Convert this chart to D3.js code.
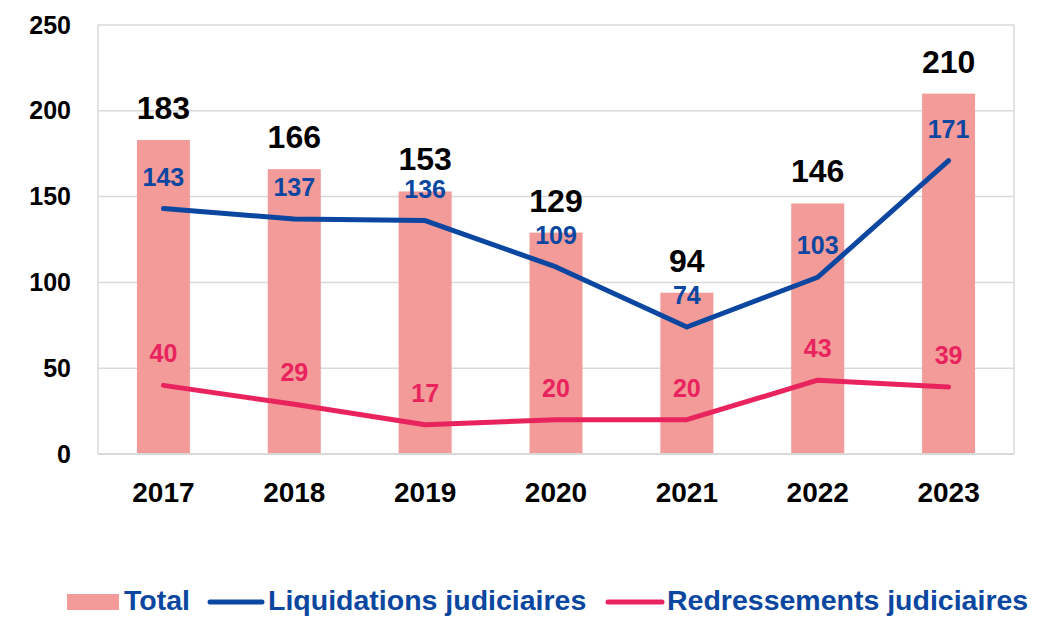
<!DOCTYPE html>
<html>
<head>
<meta charset="utf-8">
<script src="https://cdn.jsdelivr.net/npm/d3@7"></script>
<style>
  body { margin: 0; background: #fff; }
  svg { display: block; font-family: "Liberation Sans", Arial, sans-serif; font-weight: bold; }
</style>
</head>
<body>
<svg></svg>
<script>
const years = ['2017', '2018', '2019', '2020', '2021', '2022', '2023'];
const total = [183, 166, 153, 129, 94, 146, 210];
const liquidations = [143, 137, 136, 109, 74, 103, 171];
const redressements = [40, 29, 17, 20, 20, 43, 39];
const yTicks = [0, 50, 100, 150, 200, 250];

const svgWidth = 1038;
const svgHeight = 617;
const plot = { left: 98, right: 1014, top: 25, bottom: 454 };

const barColor = '#f29b98';
const blue = '#0b46a0';
const pink = '#e8235e';
const grid = '#d9d9d9';

const svg = d3.select('svg')
    .attr('width', svgWidth)
    .attr('height', svgHeight);

const xScale = d3.scaleBand()
    .domain(years)
    .range([plot.left, plot.right])
    .paddingInner(0.595)
    .paddingOuter(0.2975);

const yScale = d3.scaleLinear()
    .domain([0, 250])
    .range([plot.bottom, plot.top]);

const cx = d => xScale(d) + xScale.bandwidth() / 2;

// gridlines + frame
svg.append('g')
    .selectAll('line')
    .data(yTicks)
    .enter().append('line')
    .attr('x1', plot.left)
    .attr('x2', plot.right)
    .attr('y1', d => yScale(d))
    .attr('y2', d => yScale(d))
    .attr('stroke', grid)
    .attr('stroke-width', 1.5);

svg.append('line')
    .attr('x1', plot.left).attr('x2', plot.left)
    .attr('y1', plot.top).attr('y2', plot.bottom)
    .attr('stroke', grid).attr('stroke-width', 1.5);
svg.append('line')
    .attr('x1', plot.right).attr('x2', plot.right)
    .attr('y1', plot.top).attr('y2', plot.bottom)
    .attr('stroke', grid).attr('stroke-width', 1.5);

// y axis labels
const yAxis = svg.append('g')
    .attr('transform', `translate(${plot.left}, 0)`)
    .call(d3.axisLeft(yScale).tickValues(yTicks).tickSize(0).tickPadding(27));
yAxis.select('.domain').remove();
yAxis.selectAll('text')
    .attr('font-size', '25px')
    .attr('font-family', '"Liberation Sans", Arial, sans-serif')
    .attr('font-weight', 'bold')
    .attr('fill', '#000');

// x axis labels
const xAxis = svg.append('g')
    .attr('transform', `translate(0, ${plot.bottom})`)
    .call(d3.axisBottom(xScale).tickSize(0).tickPadding(28));
xAxis.select('.domain').remove();
xAxis.selectAll('text')
    .attr('font-size', '28px')
    .attr('font-family', '"Liberation Sans", Arial, sans-serif')
    .attr('font-weight', 'bold')
    .attr('fill', '#000');

// bars
svg.selectAll('.bar')
    .data(years)
    .enter().append('rect')
    .attr('class', 'bar')
    .attr('x', d => xScale(d))
    .attr('width', xScale.bandwidth())
    .attr('y', (d, i) => yScale(total[i]))
    .attr('height', (d, i) => plot.bottom - yScale(total[i]))
    .attr('fill', barColor);

// bottom axis line
svg.append('line')
    .attr('x1', plot.left).attr('x2', plot.right)
    .attr('y1', plot.bottom).attr('y2', plot.bottom)
    .attr('stroke', grid).attr('stroke-width', 2);

const line = d3.line()
    .x(d => cx(d.year))
    .y(d => yScale(d.value));

const liqData = years.map((y, i) => ({ year: y, value: liquidations[i] }));
const redData = years.map((y, i) => ({ year: y, value: redressements[i] }));

svg.append('path')
    .datum(liqData)
    .attr('fill', 'none')
    .attr('stroke', blue)
    .attr('stroke-width', 5)
    .attr('stroke-linecap', 'round')
    .attr('stroke-linejoin', 'round')
    .attr('d', line);

svg.append('path')
    .datum(redData)
    .attr('fill', 'none')
    .attr('stroke', pink)
    .attr('stroke-width', 5)
    .attr('stroke-linecap', 'round')
    .attr('stroke-linejoin', 'round')
    .attr('d', line);

// total labels
svg.selectAll('.total-label')
    .data(years)
    .enter().append('text')
    .attr('class', 'total-label')
    .attr('x', d => cx(d))
    .attr('y', (d, i) => yScale(total[i]) - 21)
    .attr('text-anchor', 'middle')
    .attr('font-size', '32px')
    .attr('fill', '#000')
    .text((d, i) => total[i]);

// liquidation labels
svg.selectAll('.liq-label')
    .data(liqData)
    .enter().append('text')
    .attr('class', 'liq-label')
    .attr('x', d => cx(d.year))
    .attr('y', d => yScale(d.value) - 23)
    .attr('text-anchor', 'middle')
    .attr('font-size', '25px')
    .attr('fill', blue)
    .text(d => d.value);

// redressement labels
svg.selectAll('.red-label')
    .data(redData)
    .enter().append('text')
    .attr('class', 'red-label')
    .attr('x', d => cx(d.year))
    .attr('y', d => yScale(d.value) - 23)
    .attr('text-anchor', 'middle')
    .attr('font-size', '25px')
    .attr('fill', pink)
    .text(d => d.value);

// legend
const legend = svg.append('g');
legend.append('rect')
    .attr('x', 67).attr('y', 594)
    .attr('width', 52).attr('height', 16)
    .attr('fill', barColor);
legend.append('text')
    .attr('x', 124).attr('y', 610)
    .attr('font-size', '28.5px').attr('fill', blue)
    .text('Total');

legend.append('line')
    .attr('x1', 210).attr('x2', 262)
    .attr('y1', 602).attr('y2', 602)
    .attr('stroke', blue).attr('stroke-width', 5)
    .attr('stroke-linecap', 'round');
legend.append('text')
    .attr('x', 268).attr('y', 610)
    .attr('font-size', '28.5px').attr('fill', blue)
    .text('Liquidations judiciaires');

legend.append('line')
    .attr('x1', 608).attr('x2', 662)
    .attr('y1', 602).attr('y2', 602)
    .attr('stroke', pink).attr('stroke-width', 5)
    .attr('stroke-linecap', 'round');
legend.append('text')
    .attr('x', 667).attr('y', 610)
    .attr('font-size', '28.5px').attr('fill', blue)
    .text('Redressements judiciaires');
</script>
</body>
</html>
